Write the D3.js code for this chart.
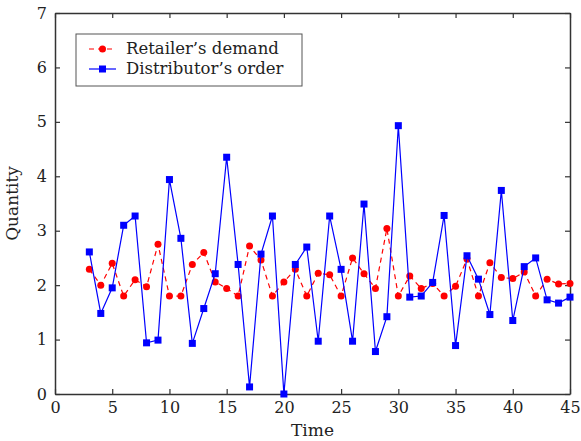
<!DOCTYPE html>
<html>
<head>
<meta charset="utf-8">
<script src="https://cdn.jsdelivr.net/npm/d3@7"></script>
<style>
  body { margin: 0; background: #fff; }
  svg text { font-family: "DejaVu Serif", "Liberation Serif", serif; fill: #222; }
</style>
</head>
<body>
<div id="chart"></div>
<script>
// time steps 3..45
var time = d3.range(3, 46);
var demand = [2.29, 2.00, 2.40, 1.80, 2.10, 1.97, 2.75, 1.80, 1.80, 2.38, 2.60, 2.06, 1.94,
  1.80, 2.72, 2.46, 1.80, 2.06, 2.29, 1.80, 2.22, 2.19, 1.80, 2.50, 2.21, 1.94, 3.04, 1.80,
  2.17, 1.94, 2.03, 1.80, 1.98, 2.48, 1.80, 2.41, 2.14, 2.12, 2.24, 1.80, 2.11, 2.02, 2.03];
var order = [2.61, 1.48, 1.95, 3.10, 3.27, 0.94, 0.99, 3.94, 2.86, 0.93, 1.57, 2.21, 4.35,
  2.38, 0.13, 2.57, 3.27, 0.00, 2.38, 2.70, 0.97, 3.27, 2.29, 0.97, 3.49, 0.78, 1.42, 4.93,
  1.78, 1.80, 2.05, 3.28, 0.89, 2.54, 2.11, 1.46, 3.74, 1.35, 2.34, 2.50, 1.73, 1.67, 1.78];
var xTicks = [0, 5, 10, 15, 20, 25, 30, 35, 40, 45];
var yTicks = [0, 1, 2, 3, 4, 5, 6, 7];
var seriesNames = ["Retailer\u2019s demand", "Distributor\u2019s order"];

var width = 581, height = 441;
var margin = {left: 55, right: 11, top: 13, bottom: 47};

var svg = d3.select("#chart").append("svg")
  .attr("width", width).attr("height", height);

var x = d3.scaleLinear().domain([0, 45]).range([margin.left, width - margin.right]);
var y = d3.scaleLinear().domain([0, 7]).range([height - margin.bottom, margin.top]);

var axisColor = "#333";
var fmt = d3.format("d");

// frame with inward ticks on all sides
function styleAxis(g) {
  g.select(".domain").attr("stroke", axisColor).attr("stroke-width", 1.5);
  g.selectAll(".tick line").attr("stroke", axisColor).attr("stroke-width", 1.2);
  g.selectAll(".tick text").style("font-size", "16px").attr("fill", "#222");
}

svg.append("g")
  .attr("transform", "translate(0," + y(0) + ")")
  .call(d3.axisBottom(x).tickValues(xTicks).tickFormat(fmt).tickSizeInner(-5).tickSizeOuter(0).tickPadding(8))
  .call(styleAxis);
svg.append("g")
  .attr("transform", "translate(0," + y(7) + ")")
  .call(d3.axisTop(x).tickValues(xTicks).tickSizeInner(-5).tickSizeOuter(0).tickFormat(""))
  .call(styleAxis);
svg.append("g")
  .attr("transform", "translate(" + x(0) + ",0)")
  .call(d3.axisLeft(y).tickValues(yTicks).tickFormat(fmt).tickSizeInner(-5).tickSizeOuter(0).tickPadding(8))
  .call(styleAxis);
svg.append("g")
  .attr("transform", "translate(" + x(45) + ",0)")
  .call(d3.axisRight(y).tickValues(yTicks).tickSizeInner(-5).tickSizeOuter(0).tickFormat(""))
  .call(styleAxis);

// axis titles
svg.append("text")
  .attr("x", x(22.5)).attr("y", height - 5)
  .attr("text-anchor", "middle")
  .style("font-size", "17px")
  .text("Time");
svg.append("text")
  .attr("transform", "translate(18," + y(3.5) + ") rotate(-90)")
  .attr("text-anchor", "middle")
  .style("font-size", "17px")
  .text("Quantity");

var line = d3.line()
  .x(function(d) { return x(d[0]); })
  .y(function(d) { return y(d[1]); });

var demandPts = time.map(function(t, i) { return [t, demand[i]]; });
var orderPts = time.map(function(t, i) { return [t, order[i]]; });

svg.append("path")
  .datum(demandPts)
  .attr("d", line)
  .attr("fill", "none")
  .attr("stroke", "#ff0000")
  .attr("stroke-width", 1.2)
  .attr("stroke-dasharray", "5,4");

svg.selectAll(".dot")
  .data(demandPts)
  .enter().append("circle")
  .attr("cx", function(d) { return x(d[0]); })
  .attr("cy", function(d) { return y(d[1]); })
  .attr("r", 3.5)
  .attr("fill", "#ff0000");

svg.append("path")
  .datum(orderPts)
  .attr("d", line)
  .attr("fill", "none")
  .attr("stroke", "#0000ff")
  .attr("stroke-width", 1.2);

var sq = 7;
svg.selectAll(".sq")
  .data(orderPts)
  .enter().append("rect")
  .attr("x", function(d) { return x(d[0]) - sq / 2; })
  .attr("y", function(d) { return y(d[1]) - sq / 2; })
  .attr("width", sq).attr("height", sq)
  .attr("fill", "#0000ff");

// legend
var legend = svg.append("g");
legend.append("rect")
  .attr("x", 76).attr("y", 34)
  .attr("width", 226).attr("height", 52)
  .attr("fill", "#fff")
  .attr("stroke", "#555").attr("stroke-width", 1);

var rows = [49, 69];
legend.append("line")
  .attr("x1", 89).attr("x2", 116).attr("y1", rows[0]).attr("y2", rows[0])
  .attr("stroke", "#ff0000").attr("stroke-width", 1.2).attr("stroke-dasharray", "5,4");
legend.append("circle")
  .attr("cx", 102.5).attr("cy", rows[0]).attr("r", 3.5).attr("fill", "#ff0000");
legend.append("line")
  .attr("x1", 89).attr("x2", 116).attr("y1", rows[1]).attr("y2", rows[1])
  .attr("stroke", "#0000ff").attr("stroke-width", 1.2);
legend.append("rect")
  .attr("x", 102.5 - sq / 2).attr("y", rows[1] - sq / 2)
  .attr("width", sq).attr("height", sq).attr("fill", "#0000ff");

legend.selectAll(".lbl")
  .data(seriesNames)
  .enter().append("text")
  .attr("x", 126)
  .attr("y", function(d, i) { return rows[i] + 5; })
  .style("font-size", "16.5px")
  .text(function(d) { return d; });
</script>
</body>
</html>
